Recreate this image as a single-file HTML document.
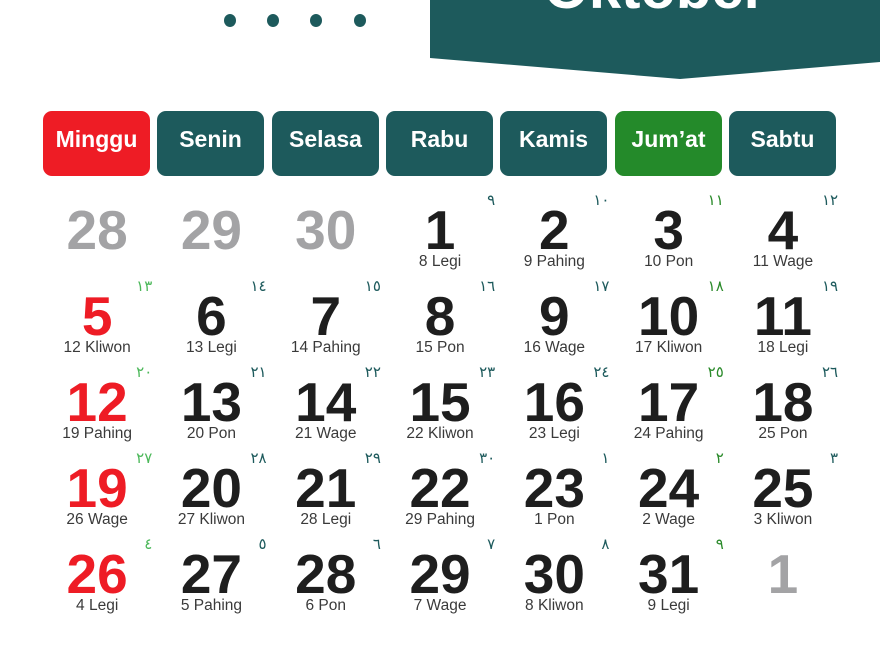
<!DOCTYPE html>
<html><head><meta charset="utf-8"><style>
body{margin:0;width:880px;height:660px;background:#fff;overflow:hidden;position:relative;font-family:"Liberation Sans",sans-serif}
.dot{position:absolute;top:14px;width:12px;height:13px;border-radius:50%;background:#1d5a5c}
.hd{position:absolute;top:111px;width:107px;height:65px;border-radius:9px;background:#1d5a5c;color:#fff;font-weight:bold;font-size:23px;line-height:56px;text-align:center}
.grid{position:absolute;left:40px;top:195px;display:grid;grid-template-columns:repeat(7,114.3px);grid-auto-rows:86px}
.c{position:relative;text-align:center}
.n{position:absolute;left:0;right:0;top:10px;height:50px;line-height:50px;font-size:55px;font-weight:bold;color:#1e1e1e;letter-spacing:0}
.l{position:absolute;left:0;right:0;top:58px;line-height:18px;font-size:15.5px;color:#3a3a3a}
.a{position:absolute;right:2px;top:-4px;font-size:15px;color:#1d5a5c;font-family:"DejaVu Sans",sans-serif}
.g .n{color:#a3a3a5}
.s .n{color:#ee1c25}
.s .a{color:#4cb85a}
.f .a{color:#2a8a2a}
</style></head><body>
<div class="dot" style="left:224px"></div><div class="dot" style="left:267px"></div><div class="dot" style="left:310px"></div><div class="dot" style="left:354px"></div>
<svg style="position:absolute;left:0;top:0" width="880" height="90"><polygon points="430,0 880,0 880,62 680,79 430,58" fill="#1d5a5c"/><text x="655" y="8" fill="#fff" font-family="Liberation Sans" font-weight="bold" font-size="58" text-anchor="middle">Oktober</text></svg>
<div class="hd" style="left:43px;background:#ee1c25">Minggu</div>
<div class="hd" style="left:157px">Senin</div>
<div class="hd" style="left:272px">Selasa</div>
<div class="hd" style="left:386px">Rabu</div>
<div class="hd" style="left:500px">Kamis</div>
<div class="hd" style="left:615px;background:#248a2a">Jum’at</div>
<div class="hd" style="left:729px">Sabtu</div>
<div class="grid">
<div class="c g"><div class="n">28</div></div>
<div class="c g"><div class="n">29</div></div>
<div class="c g"><div class="n">30</div></div>
<div class="c"><div class="a">٩</div><div class="n">1</div><div class="l">8 Legi</div></div>
<div class="c"><div class="a">١٠</div><div class="n">2</div><div class="l">9 Pahing</div></div>
<div class="c f"><div class="a">١١</div><div class="n">3</div><div class="l">10 Pon</div></div>
<div class="c"><div class="a">١٢</div><div class="n">4</div><div class="l">11 Wage</div></div>

<div class="c s"><div class="a">١٣</div><div class="n">5</div><div class="l">12 Kliwon</div></div>
<div class="c"><div class="a">١٤</div><div class="n">6</div><div class="l">13 Legi</div></div>
<div class="c"><div class="a">١٥</div><div class="n">7</div><div class="l">14 Pahing</div></div>
<div class="c"><div class="a">١٦</div><div class="n">8</div><div class="l">15 Pon</div></div>
<div class="c"><div class="a">١٧</div><div class="n">9</div><div class="l">16 Wage</div></div>
<div class="c f"><div class="a">١٨</div><div class="n">10</div><div class="l">17 Kliwon</div></div>
<div class="c"><div class="a">١٩</div><div class="n">11</div><div class="l">18 Legi</div></div>

<div class="c s"><div class="a">٢٠</div><div class="n">12</div><div class="l">19 Pahing</div></div>
<div class="c"><div class="a">٢١</div><div class="n">13</div><div class="l">20 Pon</div></div>
<div class="c"><div class="a">٢٢</div><div class="n">14</div><div class="l">21 Wage</div></div>
<div class="c"><div class="a">٢٣</div><div class="n">15</div><div class="l">22 Kliwon</div></div>
<div class="c"><div class="a">٢٤</div><div class="n">16</div><div class="l">23 Legi</div></div>
<div class="c f"><div class="a">٢٥</div><div class="n">17</div><div class="l">24 Pahing</div></div>
<div class="c"><div class="a">٢٦</div><div class="n">18</div><div class="l">25 Pon</div></div>

<div class="c s"><div class="a">٢٧</div><div class="n">19</div><div class="l">26 Wage</div></div>
<div class="c"><div class="a">٢٨</div><div class="n">20</div><div class="l">27 Kliwon</div></div>
<div class="c"><div class="a">٢٩</div><div class="n">21</div><div class="l">28 Legi</div></div>
<div class="c"><div class="a">٣٠</div><div class="n">22</div><div class="l">29 Pahing</div></div>
<div class="c"><div class="a">١</div><div class="n">23</div><div class="l">1 Pon</div></div>
<div class="c f"><div class="a">٢</div><div class="n">24</div><div class="l">2 Wage</div></div>
<div class="c"><div class="a">٣</div><div class="n">25</div><div class="l">3 Kliwon</div></div>

<div class="c s"><div class="a">٤</div><div class="n">26</div><div class="l">4 Legi</div></div>
<div class="c"><div class="a">٥</div><div class="n">27</div><div class="l">5 Pahing</div></div>
<div class="c"><div class="a">٦</div><div class="n">28</div><div class="l">6 Pon</div></div>
<div class="c"><div class="a">٧</div><div class="n">29</div><div class="l">7 Wage</div></div>
<div class="c"><div class="a">٨</div><div class="n">30</div><div class="l">8 Kliwon</div></div>
<div class="c f"><div class="a">٩</div><div class="n">31</div><div class="l">9 Legi</div></div>
<div class="c g"><div class="n">1</div></div>
</div>
</body></html>
